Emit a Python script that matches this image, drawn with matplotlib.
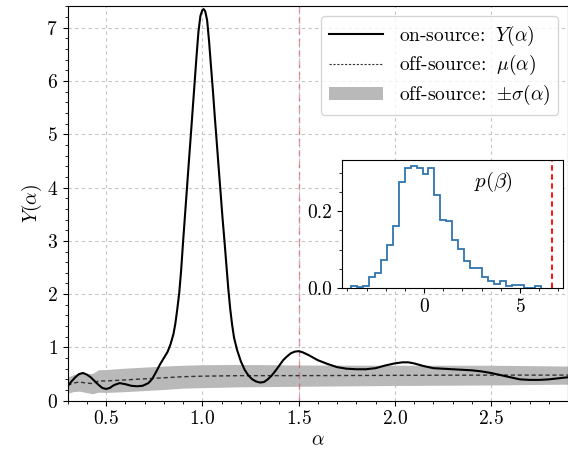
import numpy as np
import matplotlib
matplotlib.use('Agg')
import matplotlib.pyplot as plt
from matplotlib.patches import Patch
from matplotlib.lines import Line2D

plt.rcParams['font.family'] = 'serif'
plt.rcParams['font.serif'] = ['cmr10']
plt.rcParams['mathtext.fontset'] = 'cm'
plt.rcParams['axes.formatter.use_mathtext'] = True
plt.rcParams['axes.unicode_minus'] = False
plt.rcParams['font.size'] = 14
plt.rcParams['xtick.minor.visible'] = True
plt.rcParams['ytick.minor.visible'] = True

# on-source statistic Y(alpha)
alpha_on = [0.30, 0.32, 0.34, 0.36, 0.38, 0.40, 0.42, 0.44, 0.46, 0.48, 0.50,
            0.52, 0.54, 0.57, 0.60, 0.63, 0.66, 0.69, 0.72, 0.74, 0.76, 0.78,
            0.80, 0.82, 0.835, 0.85, 0.86, 0.87, 0.88, 0.89, 0.90, 0.91, 0.92,
            0.93, 0.94, 0.95, 0.96, 0.97, 0.98, 0.99, 1.00, 1.007, 1.015,
            1.025, 1.035, 1.045, 1.055, 1.065, 1.075, 1.085, 1.095, 1.105,
            1.115, 1.125, 1.135, 1.145, 1.155, 1.165, 1.18, 1.20, 1.22, 1.24,
            1.26, 1.28, 1.30, 1.32, 1.34, 1.36, 1.38, 1.40, 1.42, 1.44, 1.46,
            1.48, 1.50, 1.52, 1.55, 1.60, 1.65, 1.70, 1.75, 1.80, 1.85, 1.90,
            1.95, 2.00, 2.04, 2.07, 2.10, 2.15, 2.20, 2.25, 2.30, 2.35, 2.40,
            2.45, 2.50, 2.55, 2.60, 2.65, 2.70, 2.75, 2.80, 2.85, 2.90]
Y_on = [0.27, 0.36, 0.44, 0.50, 0.52, 0.49, 0.44, 0.37, 0.30, 0.24, 0.22,
        0.24, 0.29, 0.33, 0.31, 0.28, 0.27, 0.28, 0.33, 0.41, 0.54, 0.68,
        0.80, 0.92, 1.06, 1.25, 1.45, 1.72, 2.02, 2.45, 2.98, 3.48, 3.98,
        4.48, 4.97, 5.47, 5.97, 6.47, 6.93, 7.22, 7.33, 7.35, 7.31, 7.14,
        6.75, 6.28, 5.82, 5.32, 4.85, 4.37, 3.90, 3.43, 3.00, 2.55, 2.10,
        1.72, 1.42, 1.18, 0.96, 0.74, 0.58, 0.47, 0.40, 0.36, 0.34, 0.35,
        0.40, 0.47, 0.56, 0.66, 0.76, 0.83, 0.89, 0.92, 0.93, 0.91, 0.86,
        0.76, 0.69, 0.63, 0.60, 0.59, 0.59, 0.61, 0.66, 0.70, 0.72, 0.72,
        0.70, 0.65, 0.61, 0.60, 0.59, 0.58, 0.57, 0.55, 0.52, 0.48, 0.44,
        0.40, 0.39, 0.39, 0.40, 0.42, 0.44]

# off-source mean and spread
alpha_off = [0.30, 0.33, 0.36, 0.40, 0.43, 0.46, 0.50, 0.60, 0.70, 0.80,
             0.90, 1.00, 1.20, 1.50, 2.00, 2.50, 2.90]
mu_off = [0.29, 0.33, 0.35, 0.33, 0.32, 0.37, 0.37, 0.39, 0.41, 0.43,
          0.45, 0.46, 0.47, 0.47, 0.475, 0.48, 0.48]
sigma_off = [0.15, 0.16, 0.17, 0.18, 0.19, 0.21, 0.215, 0.22, 0.22, 0.22,
             0.215, 0.215, 0.21, 0.20, 0.19, 0.185, 0.17]

# inset: distribution of beta
beta_edges = [-3.8 + 0.31 * k for k in range(33)]
p_beta = [0.005, 0.002, 0.006, 0.029, 0.040, 0.072, 0.112, 0.162, 0.276,
          0.311, 0.318, 0.313, 0.296, 0.311, 0.242, 0.177, 0.175, 0.125,
          0.101, 0.070, 0.051, 0.051, 0.028, 0.018, 0.010, 0.018, 0.004,
          0.007, 0.009, 0.0, 0.0, 0.005]
beta_obs = 6.65
alpha_mark = 1.5

mu = np.array(mu_off)
sig = np.array(sigma_off)

fig = plt.figure(figsize=(5.68, 4.53), dpi=100)
ax = fig.add_axes([0.119, 0.1155, 0.881, 0.8715])

ax.fill_between(alpha_off, mu - sig, mu + sig, color='#b9b9b9', lw=0, zorder=1)
ax.plot(alpha_off, mu, c='#333333', ls='--', lw=1.0, dashes=(3, 2), zorder=2)
ax.plot(alpha_on, Y_on, c='k', lw=1.5, zorder=3)
ax.axvline(alpha_mark, c='#d04050', ls='--', lw=1.0, alpha=0.5, dashes=(5, 3))

ax.set_xlim(0.3, 2.9)
ax.set_ylim(0, 7.41)
ax.set_xticks([0.5, 1.0, 1.5, 2.0, 2.5])
ax.set_xlabel(r'$\alpha$', labelpad=2)
ax.set_ylabel(r'$Y(\alpha)$', labelpad=2)
ax.grid(True, ls=(0, (3, 3)), c='#c4c4c4', lw=0.8)
ax.set_axisbelow(True)

handles = [Line2D([], [], c='k', lw=1.5),
           Line2D([], [], c='#333333', ls='--', lw=0.8, dashes=(2, 1.5)),
           Patch(facecolor='#b9b9b9', edgecolor='none')]
labels = [r'on-source: $\;Y(\alpha)$', r'off-source: $\;\mu(\alpha)$',
          r'off-source: $\;{\pm}\sigma(\alpha)$']
ax.legend(handles, labels, loc='upper right', fontsize=14, handlelength=2.8,
          labelspacing=0.3, borderpad=0.4)

ins = fig.add_axes([0.6026, 0.3642, 0.3886, 0.2826])
ins.stairs(p_beta, beta_edges, color='#2f74b0', lw=1.3)
ins.axvline(beta_obs, c='red', ls='--', lw=1.3, dashes=(3, 2))
ins.set_xlim(-4.27, 7.25)
ins.set_ylim(0, 0.333)
ins.set_xticks([0, 5])
ins.set_yticks([0.0, 0.2])
ins.yaxis.set_major_formatter(matplotlib.ticker.FormatStrFormatter('%.1f'))
ins.text(0.683, 0.83, r'$p(\beta)$', transform=ins.transAxes,
         ha='center', va='center', fontsize=15)

fig.savefig('out.png', dpi=100)
